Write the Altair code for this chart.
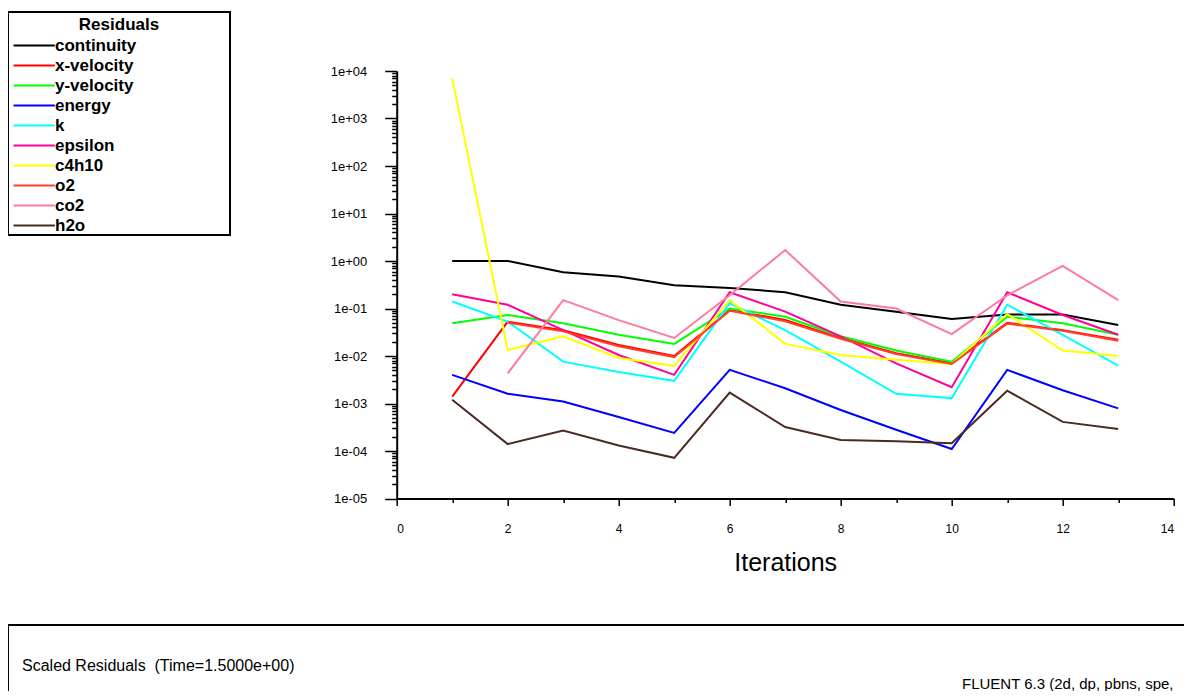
import altair as alt
import pandas as pd

iterations = list(range(1, 14))
series_names = ["continuity", "x-velocity", "y-velocity", "energy", "k", "epsilon",
                "c4h10", "o2", "co2", "h2o"]
series_colors = ["#000000", "#ff0000", "#00ff00", "#0000ff", "#00ffff", "#ff0099",
                 "#ffff00", "#ff4026", "#ff7a9c", "#4b2a22"]

continuity = [1.0, 1.0, 0.58, 0.47, 0.31, 0.27, 0.22, 0.12, 0.085, 0.06, 0.075, 0.075, 0.045]
x_velocity = [1.4e-3, 0.053, 0.035, 0.017, 0.010, 0.093, 0.057, 0.024, 0.0115, 0.007, 0.050, 0.035, 0.022]
y_velocity = [0.049, 0.073, 0.049, 0.028, 0.018, 0.10, 0.067, 0.026, 0.013, 0.0076, 0.067, 0.049, 0.028]
energy = [4.0e-3, 1.6e-3, 1.1e-3, 5.2e-4, 2.4e-4, 5.1e-3, 2.1e-3, 7.3e-4, 2.8e-4, 1.1e-4, 5.1e-3, 1.9e-3, 7.9e-4]
k = [0.14, 0.053, 7.6e-3, 4.6e-3, 3.0e-3, 0.13, 0.035, 7.6e-3, 1.6e-3, 1.3e-3, 0.12, 0.028, 6.3e-3]
epsilon = [0.20, 0.12, 0.035, 0.0105, 4.0e-3, 0.22, 0.086, 0.026, 7.0e-3, 2.2e-3, 0.22, 0.073, 0.028]
c4h10 = [7000, 0.0134, 0.026, 9.1e-3, 6.2e-3, 0.15, 0.018, 0.0105, 8.3e-3, 6.8e-3, 0.077, 0.013, 0.010]
o2 = [None, 0.050, 0.033, 0.016, 0.0095, 0.090, 0.054, 0.023, 0.011, 0.0068, 0.048, 0.034, 0.021]
co2 = [None, 4.3e-3, 0.15, 0.057, 0.024, 0.19, 1.7, 0.14, 0.10, 0.029, 0.19, 0.79, 0.15]
h2o = [1.2e-3, 1.4e-4, 2.7e-4, 1.3e-4, 7.2e-5, 1.7e-3, 3.2e-4, 1.7e-4, 1.6e-4, 1.45e-4, 1.86e-3, 4.1e-4, 2.9e-4]

series_values = [continuity, x_velocity, y_velocity, energy, k, epsilon, c4h10, o2, co2, h2o]

x_major = [0, 2, 4, 6, 8, 10, 12, 14]
x_minor = [1, 3, 5, 7, 9, 11, 13]
y_decades = [1e-5, 1e-4, 1e-3, 1e-2, 1e-1, 1e0, 1e1, 1e2, 1e3, 1e4]
y_minor = [m * d for d in y_decades[:-1] for m in range(2, 10)]

legend_title = "Residuals"
x_title = "Iterations"
footer_left = "Scaled Residuals\u00a0\u00a0(Time=1.5000e+00)"
footer_right = "FLUENT 6.3 (2d, dp, pbns, spe,"

rows = []
for name, vals in zip(series_names, series_values):
    for it, v in zip(iterations, vals):
        rows.append({"iteration": it, "residual": v, "series": name})
df = pd.DataFrame(rows)

FONT = "Liberation Sans, Arial, sans-serif"

x_scale = alt.Scale(domain=[0, 14], nice=False, zero=False)
y_scale = alt.Scale(type="log", domain=[1e-5, 1e4], nice=False)

label_expr = ("'1e' + (round(log(datum.value)/LN10) < 0 ? '-' : '+') + "
              "(abs(round(log(datum.value)/LN10)) < 10 ? '0' : '') + "
              "abs(round(log(datum.value)/LN10))")

minor = alt.Chart(df).mark_point(opacity=0).encode(
    x=alt.X("iteration:Q", scale=x_scale,
            axis=alt.Axis(values=x_minor, labels=False, domain=False, grid=False,
                          tickSize=4, tickWidth=1.5, tickColor="black", title=None,
                          orient="bottom")),
    y=alt.Y("residual:Q", scale=y_scale,
            axis=alt.Axis(values=y_minor, labels=False, domain=False, grid=False,
                          tickSize=5, tickWidth=1.5, tickColor="black", title=None,
                          orient="left")),
)

lines = alt.Chart(df).mark_line(strokeWidth=2).encode(
    x=alt.X("iteration:Q", scale=x_scale,
            axis=alt.Axis(values=x_major, orient="bottom", title=x_title, grid=False,
                          tickSize=7, tickWidth=1.5, tickColor="black",
                          domainColor="black", domainWidth=2,
                          labelFont=FONT, labelFontSize=12, labelColor="black",
                          labelPadding=18, titleFont=FONT, titleFontSize=25,
                          titleFontWeight="normal", titleColor="black", titlePadding=16)),
    y=alt.Y("residual:Q", scale=y_scale,
            axis=alt.Axis(values=y_decades, orient="left", title=None, grid=False,
                          labelExpr=label_expr, tickSize=12, tickWidth=1.5,
                          tickColor="black", domainColor="black", domainWidth=2,
                          labelFont=FONT, labelFontSize=13, labelColor="black",
                          labelPadding=18)),
    color=alt.Color("series:N", scale=alt.Scale(domain=series_names, range=series_colors),
                    legend=alt.Legend(
                        title=None,
                        orient="none", legendX=-388.7, legendY=-38,
                        padding=4, rowPadding=2,
                        labelFont=FONT, labelFontSize=17, labelFontWeight="bold",
                        labelColor="black", labelOffset=26,
                        symbolType="M-1,0H4.9", symbolSize=196, symbolStrokeWidth=2)),
)

one = pd.DataFrame({"t": [footer_left]})
two = pd.DataFrame({"t": [footer_right]})
lt = pd.DataFrame({"t": [legend_title]})

legend_box = alt.Chart(lt).mark_rect(filled=False, stroke="black", strokeWidth=2).encode(
    x=alt.value(-388.7), x2=alt.value(-166.7), y=alt.value(-59), y2=alt.value(164))
legend_ttl = alt.Chart(lt).mark_text(align="center", baseline="middle", font=FONT,
                                     fontSize=17, fontWeight="bold", color="black").encode(
    x=alt.value(-277.7), y=alt.value(-46), text="t:N")

box = alt.Chart(one).mark_rect(filled=False, stroke="black", strokeWidth=2).encode(
    x=alt.value(-388.7), x2=alt.value(820), y=alt.value(554), y2=alt.value(650))

txt1 = alt.Chart(one).mark_text(align="left", baseline="middle", font=FONT,
                                fontSize=16, color="black").encode(
    x=alt.value(-374.7), y=alt.value(595), text="t:N")
txt2 = alt.Chart(two).mark_text(align="left", baseline="middle", font=FONT,
                                fontSize=15, color="black").encode(
    x=alt.value(565.3), y=alt.value(613), text="t:N")

chart = alt.layer(minor, lines, legend_box, legend_ttl, box, txt1, txt2).resolve_axis(
    x="independent", y="independent"
).properties(
    width=777, height=427.5,
    padding={"left": 388.7, "top": 63, "right": 10.3, "bottom": 192.5},
    autosize=alt.AutoSizeParams(type="none"),
    background="white",
).configure_view(stroke=None)

chart.save("out.html", embed_options={"renderer": "svg", "actions": False})
